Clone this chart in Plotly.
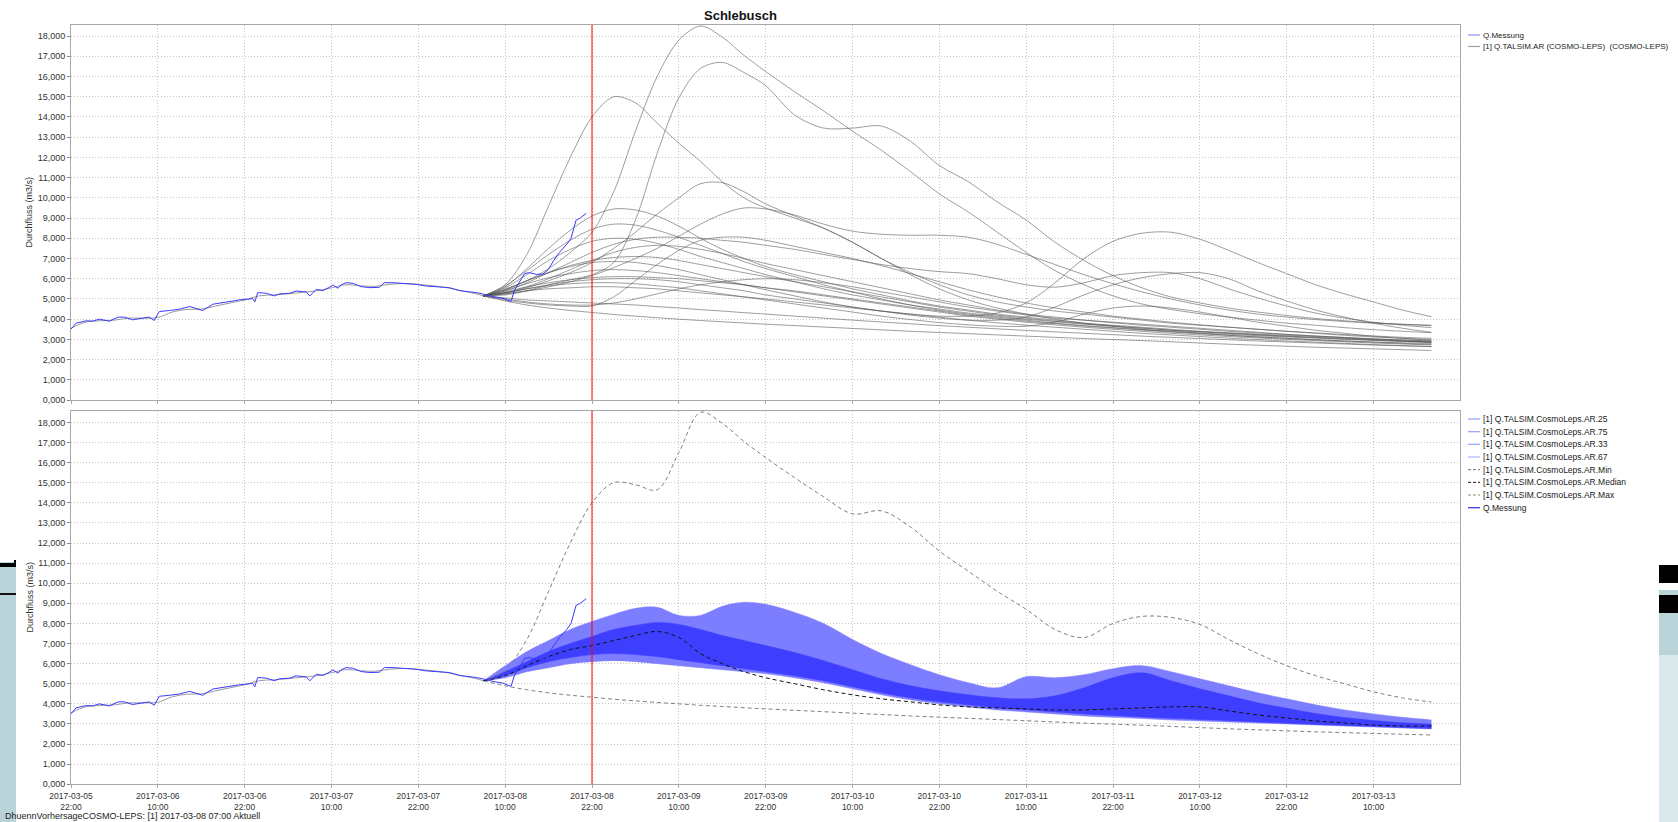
import pandas as pd
import plotly.graph_objects as go

W, H = 1678, 822
BASE = pd.Timestamp("2017-03-05 22:00")

# ---------------- data ----------------
meas_h = [0, 0.7, 2.1, 3.0, 3.9, 5.3, 6.5, 7.4, 8.5, 9.9, 10.8, 11.5, 12.2, 13.6, 15.0, 16.4, 17.3, 18.2, 19.6, 21.4,
          23.3, 25.1, 25.4, 25.8, 27.0, 28.1, 28.8, 30.2, 31.1, 32.5, 33.0, 33.9, 34.8, 35.7, 36.2, 36.9, 37.3, 38.0,
          39.0, 40.1, 41.3, 42.6, 43.3, 44.5, 46.4, 47.7, 49.1, 50.9, 52.3, 53.7, 55.1, 56.0, 56.9, 58.3, 59.7, 60.8,
          61.3, 62.0, 62.7, 63.4, 64.3, 65.2, 65.9, 66.6, 67.5, 68.5, 69.1, 69.8, 70.3, 71.2]
meas_v = [3508, 3800, 3918, 3900, 4000, 3900, 4098, 4100, 3967, 4066, 4100, 3935, 4377, 4426, 4492, 4623, 4525, 4426,
          4738, 4852, 4951, 5016, 4852, 5311, 5279, 5148, 5246, 5279, 5393, 5344, 5148, 5475, 5410, 5574, 5689, 5525,
          5689, 5803, 5770, 5607, 5557, 5574, 5803, 5803, 5770, 5721, 5639, 5574, 5557, 5410, 5360, 5311, 5246, 5115,
          5033, 4869, 5443, 5852, 6262, 6295, 6213, 6230, 6426, 6836, 7300, 7700, 8000, 8900, 8983, 9230]

hist_h = [0, 2, 4, 6, 8, 10, 12, 14, 16, 18, 20, 22, 24, 26, 28, 30, 32, 34, 36, 38, 40, 42, 44, 46, 48, 50, 52, 54, 56, 57]
hist_v = [3550, 3850, 3920, 3950, 4050, 4050, 4080, 4350, 4480, 4500, 4650, 4800, 4950, 5150, 5200, 5250, 5330, 5400,
          5550, 5700, 5650, 5620, 5720, 5760, 5720, 5650, 5550, 5400, 5250, 5150]

fc_h = [57, 60, 63, 66, 69, 72, 75, 78, 81, 84, 87, 90, 93, 96, 100, 104, 108, 112, 116, 120, 124, 128, 132, 136, 140,
        144, 148, 152, 156, 160, 164, 168, 172, 176, 180, 184, 188]

members = {
    "A": [5150, 5500, 5900, 6500, 7300, 8300, 10300, 13300, 16000, 17800, 18500, 17950, 17050, 16250, 15250, 14300,
          13300, 12350, 11300, 10200, 9300, 8300, 7300, 6400, 5700, 5150, 4750, 4480, 4270, 4100, 3950, 3800, 3700,
          3580, 3480, 3400, 3330],
    "B": [5150, 5200, 5400, 5700, 5950, 6200, 6800, 8900, 12200, 14950, 16400, 16700, 16200, 15550, 14100, 13450, 13450,
          13550, 12800, 11600, 10800, 9800, 8900, 7800, 6900, 6150, 5550, 5100, 4800, 4550, 4350, 4180, 4030, 3920, 3820,
          3740, 3680],
    "C": [5150, 5700, 7200, 9600, 12000, 14000, 15000, 14700, 13700, 12700, 11800, 10800, 10000, 9500, 9000, 8500, 7800,
          7000, 6300, 5700, 5200, 4850, 4600, 4400, 4250, 4100, 3950, 3800, 3700, 3600, 3500, 3400, 3300, 3200, 3120,
          3050, 3000],
    "D": [5150, 5300, 5550, 5900, 6300, 6800, 7500, 8300, 9200, 10000, 10700, 10750, 10300, 9700, 9100, 8500, 7800,
          7000, 6200, 5500, 4950, 4550, 4250, 4000, 3800, 3650, 3500, 3400, 3300, 3200, 3120, 3050, 2980, 2920, 2870,
          2830, 2800],
    "E": [5150, 5250, 5400, 5600, 5850, 6150, 6550, 7000, 7500, 8100, 8700, 9200, 9500, 9450, 9150, 8700, 8350, 8200,
          8150, 8150, 8050, 7700, 7200, 6700, 6200, 5750, 5350, 5000, 4700, 4450, 4250, 4100, 3980, 3880, 3800, 3750,
          3700],
    "F": [5150, 5300, 5500, 5700, 5850, 5950, 6000, 6000, 5950, 5850, 5700, 5550, 5400, 5200, 5000, 4800, 4600, 4400,
          4250, 4150, 4150, 4300, 4800, 5800, 7000, 7850, 8250, 8300, 7950, 7400, 6800, 6250, 5700, 5250, 4850, 4450,
          4120],
    "G": [5150, 5400, 5800, 6300, 6800, 7300, 7700, 7950, 8050, 8050, 8000, 7900, 7800, 7650, 7450, 7200, 6950, 6700,
          6500, 6350, 6250, 6000, 5700, 5580, 5800, 6150, 6300, 6300, 6000, 5500, 5050, 4650, 4300, 4050, 3850, 3700,
          3580],
    "H": [5150, 5450, 5900, 6300, 6600, 6800, 6850, 6800, 6650, 6450, 6200, 5950, 5700, 5450, 5150, 4850, 4600, 4400,
          4200, 4050, 3950, 3950, 4100, 4600, 5200, 5700, 6050, 6250, 6300, 6000, 5400, 4900, 4450, 4100, 3800, 3550,
          3350],
    "I": [5150, 5600, 6500, 7500, 8400, 9100, 9450, 9400, 9100, 8600, 8000, 7450, 7000, 6600, 6200, 5850, 5500, 5200,
          4900, 4650, 4450, 4250, 4100, 3950, 3800, 3700, 3600, 3500, 3400, 3330, 3260, 3200, 3140, 3080, 3020, 2970,
          2920],
    "J": [5150, 5650, 6400, 7200, 7900, 8450, 8700, 8650, 8400, 8050, 7650, 7250, 6850, 6500, 6100, 5700, 5350, 5000,
          4700, 4450, 4250, 4100, 3950, 3800, 3680, 3580, 3480, 3400, 3320, 3250, 3180, 3120, 3060, 3000, 2950, 2900,
          2850],
    "K": [5150, 5550, 6200, 6900, 7450, 7850, 8000, 7950, 7750, 7450, 7100, 6800, 6500, 6200, 5850, 5500, 5200, 4950,
          4700, 4500, 4300, 4150, 4000, 3870, 3750, 3650, 3550, 3450, 3370, 3300, 3230, 3160, 3100, 3040, 2980, 2920,
          2870],
    "L": [5150, 4950, 4800, 4700, 4650, 4650, 5100, 5900, 6700, 7400, 7900, 8050, 8050, 7900, 7600, 7300, 7000, 6650,
          6250, 5850, 5450, 5100, 4800, 4550, 4350, 4150, 4000, 3850, 3720, 3600, 3500, 3400, 3320, 3240, 3170, 3100,
          3050],
    "M": [5150, 5450, 5900, 6300, 6650, 6900, 7050, 7100, 7050, 6900, 6700, 6500, 6300, 6100, 5850, 5600, 5350, 5100,
          4850, 4600, 4400, 4200, 4050, 3900, 3780, 3660, 3560, 3460, 3380, 3300, 3220, 3150, 3080, 3020, 2960, 2900,
          2850],
    "N": [5150, 5400, 5750, 6050, 6250, 6400, 6450, 6400, 6300, 6150, 6000, 5850, 5700, 5550, 5350, 5150, 4950, 4750,
          4550, 4350, 4150, 4000, 3850, 3720, 3600, 3500, 3400, 3300, 3220, 3140, 3070, 3000, 2940, 2880, 2820, 2770,
          2720],
    "O": [5150, 5350, 5600, 5800, 5950, 6050, 6100, 6100, 6050, 6000, 5900, 5800, 5700, 5550, 5400, 5200, 5000, 4800,
          4600, 4400, 4200, 4050, 3900, 3780, 3660, 3560, 3460, 3360, 3280, 3200, 3120, 3050, 2980, 2920, 2860, 2800,
          2750],
    "P": [5150, 5000, 4850, 4750, 4700, 4700, 4800, 5000, 5250, 5500, 5700, 5850, 5950, 6000, 5950, 5800, 5600, 5350,
          5100, 4850, 4600, 4400, 4200, 4050, 3950, 3850, 3750, 3650, 3550, 3450, 3350, 3250, 3160, 3080, 3000, 2930,
          2870],
    "Q": [5150, 5250, 5400, 5500, 5550, 5600, 5600, 5550, 5500, 5400, 5300, 5200, 5100, 5000, 4850, 4700, 4550, 4400,
          4250, 4100, 3950, 3820, 3700, 3600, 3500, 3400, 3300, 3220, 3140, 3060, 2990, 2920, 2860, 2800, 2740, 2690,
          2640],
    "R": [5150, 5050, 4950, 4900, 4850, 4800, 4750, 4700, 4620, 4550, 4470, 4400, 4320, 4250, 4150, 4050, 3950, 3860,
          3770, 3680, 3600, 3520, 3440, 3370, 3300, 3230, 3160, 3100, 3040, 2980, 2920, 2870, 2820, 2770, 2720, 2680,
          2640],
    "S": [5150, 4900, 4700, 4550, 4430, 4330, 4230, 4150, 4070, 4000, 3930, 3870, 3810, 3750, 3680, 3610, 3540, 3470,
          3400, 3340, 3280, 3220, 3160, 3100, 3040, 2990, 2940, 2880, 2820, 2760, 2710, 2660, 2610, 2570, 2530, 2490,
          2450],
    "T": [5150, 5300, 5500, 5650, 5750, 5800, 5800, 5750, 5650, 5550, 5400, 5250, 5100, 4950, 4750, 4550, 4350, 4150,
          3980, 3830, 3720, 3650, 3650, 3850, 4250, 4550, 4650, 4550, 4350, 4100, 3850, 3650, 3450, 3300, 3150, 3050,
          2950],
    "U": [5150, 5300, 5600, 6000, 6450, 6900, 7300, 7550, 7650, 7600, 7450, 7250, 7000, 6750, 6450, 6150, 5850, 5550,
          5250, 4950, 4700, 4450, 4250, 4100, 3950, 3820, 3700, 3600, 3500, 3400, 3320, 3240, 3170, 3100, 3030, 2970,
          2920],
}

q25 = [5150, 5300, 5600, 5800, 6000, 6100, 6150, 6100, 6000, 5900, 5800, 5700, 5600, 5500, 5300, 5050, 4750, 4450,
       4200, 4000, 3850, 3700, 3600, 3500, 3400, 3330, 3270, 3200, 3150, 3100, 3050, 3000, 2950, 2900, 2850, 2800, 2750]
q75 = [5150, 5900, 6600, 7150, 7700, 8100, 8450, 8750, 8800, 8400, 8400, 8850, 9050, 8950, 8550, 8000, 7200, 6500,
       5950, 5450, 5050, 4800, 5350, 5300, 5450, 5750, 5900, 5600, 5250, 4900, 4550, 4250, 3950, 3700, 3500, 3330, 3200]
q33 = [5150, 5400, 5800, 6100, 6300, 6450, 6500, 6450, 6350, 6200, 6050, 5900, 5750, 5600, 5400, 5150, 4850, 4550,
       4300, 4100, 3950, 3800, 3700, 3600, 3500, 3420, 3350, 3280, 3220, 3160, 3100, 3040, 2980, 2930, 2880, 2830, 2780]
q67 = [5150, 5600, 6100, 6600, 7000, 7350, 7700, 7900, 8050, 7950, 7700, 7400, 7150, 6900, 6550, 6150, 5700, 5250,
       4900, 4650, 4450, 4300, 4250, 4400, 4800, 5300, 5550, 5150, 4750, 4400, 4050, 3780, 3520, 3320, 3170, 3060, 3000]
q_med = [5150, 5400, 5900, 6350, 6700, 6900, 7150, 7400, 7600, 7300, 6500, 6000, 5600, 5300, 5000, 4700, 4450, 4250,
         4100, 3950, 3850, 3800, 3750, 3700, 3700, 3750, 3800, 3850, 3850, 3650, 3450, 3300, 3150, 3050, 2950, 2900, 2900]
q_min = [5150, 4900, 4700, 4550, 4430, 4330, 4230, 4150, 4070, 4000, 3930, 3870, 3810, 3750, 3680, 3610, 3540, 3470,
         3400, 3340, 3280, 3220, 3160, 3100, 3040, 2990, 2940, 2880, 2820, 2760, 2710, 2660, 2610, 2570, 2530, 2490, 2450]
q_max = [5150, 5700, 7200, 9600, 12000, 14000, 15000, 14900, 14650, 16500, 18500, 17950, 17050, 16250, 15250, 14300,
         13450, 13600, 12800, 11600, 10600, 9600, 8700, 7700, 7300, 8000, 8350, 8300, 7950, 7200, 6500, 5900, 5400,
         5000, 4600, 4300, 4090]

y_tickvals = list(range(0, 19000, 1000))
y_ticktext = ["0,000", "1,000", "2,000", "3,000", "4,000", "5,000", "6,000", "7,000", "8,000", "9,000", "10,000",
              "11,000", "12,000", "13,000", "14,000", "15,000", "16,000", "17,000", "18,000"]

title_text = "Schlebusch"
y_title = "Durchfluss (m3/s)"
footer = "DhuennVorhersageCOSMO-LEPS: [1] 2017-03-08 07:00 Aktuell"
legend_top = [("Q.Messung", "#8c8cff", "solid"),
              ("[1] Q.TALSIM.AR (COSMO-LEPS)\u00a0\u00a0(COSMO-LEPS)", "#a0a0a0", "solid")]
legend_bot = [("[1] Q.TALSIM.CosmoLeps.AR.25", "#9c9cff", "solid"),
              ("[1] Q.TALSIM.CosmoLeps.AR.75", "#9c9cff", "solid"),
              ("[1] Q.TALSIM.CosmoLeps.AR.33", "#9c9cff", "solid"),
              ("[1] Q.TALSIM.CosmoLeps.AR.67", "#b4b4ff", "solid"),
              ("[1] Q.TALSIM.CosmoLeps.AR.Min", "#888888", "dash"),
              ("[1] Q.TALSIM.CosmoLeps.AR.Median", "#444444", "dash"),
              ("[1] Q.TALSIM.CosmoLeps.AR.Max", "#888888", "dash"),
              ("Q.Messung", "#2a2aff", "solid")]


def tx(hours):
    return [BASE + pd.Timedelta(hours=h) for h in hours]


# ---------------- layout geometry (pixels) ----------------
PL, PR = 71, 1460
T1, B1 = 25, 400
T2, B2 = 410.7, 784.3


def px(x):
    return x / W


def py(y):
    return 1 - y / H


fig = go.Figure()

MEAS_C = "#3a3aff"
ENS_C = "rgba(85,85,85,0.72)"

# top plot
fig.add_trace(go.Scatter(x=tx(hist_h), y=hist_v, mode="lines", line=dict(color="#9a9a9a", width=1, shape="spline"),
                         xaxis="x", yaxis="y", showlegend=False, hoverinfo="skip"))
for name, vals in members.items():
    fig.add_trace(go.Scatter(x=tx(fc_h), y=vals, mode="lines",
                             line=dict(color=ENS_C, width=0.8, shape="spline", smoothing=0.9),
                             xaxis="x", yaxis="y", showlegend=False, name=name))
fig.add_trace(go.Scatter(x=tx(meas_h), y=meas_v, mode="lines", line=dict(color=MEAS_C, width=1),
                         xaxis="x", yaxis="y", showlegend=False, name="Q.Messung"))

# bottom plot
LIGHT = "rgb(125,125,255)"
DARK = "rgb(62,62,255)"
fig.add_trace(go.Scatter(x=tx(hist_h), y=hist_v, mode="lines", line=dict(color="#9a9aaa", width=1, shape="spline"),
                         xaxis="x2", yaxis="y2", showlegend=False, hoverinfo="skip"))
fig.add_trace(go.Scatter(x=tx(fc_h), y=q25, mode="lines", line=dict(color=LIGHT, width=0.5, shape="spline"),
                         xaxis="x2", yaxis="y2", showlegend=False))
fig.add_trace(go.Scatter(x=tx(fc_h), y=q75, mode="lines", line=dict(color=LIGHT, width=0.5, shape="spline"),
                         fill="tonexty", fillcolor=LIGHT, xaxis="x2", yaxis="y2", showlegend=False))
fig.add_trace(go.Scatter(x=tx(fc_h), y=q33, mode="lines", line=dict(color=DARK, width=0.5, shape="spline"),
                         xaxis="x2", yaxis="y2", showlegend=False))
fig.add_trace(go.Scatter(x=tx(fc_h), y=q67, mode="lines", line=dict(color=DARK, width=0.5, shape="spline"),
                         fill="tonexty", fillcolor=DARK, xaxis="x2", yaxis="y2", showlegend=False))
fig.add_trace(go.Scatter(x=tx(fc_h), y=q_min, mode="lines",
                         line=dict(color="#808080", width=1, dash="4px,3px", shape="spline"),
                         xaxis="x2", yaxis="y2", showlegend=False))
fig.add_trace(go.Scatter(x=tx(fc_h), y=q_max, mode="lines",
                         line=dict(color="#808080", width=1, dash="4px,3px", shape="spline"),
                         xaxis="x2", yaxis="y2", showlegend=False))
fig.add_trace(go.Scatter(x=tx(fc_h), y=q_med, mode="lines",
                         line=dict(color="#111111", width=1, dash="4px,3px", shape="spline"),
                         xaxis="x2", yaxis="y2", showlegend=False))
fig.add_trace(go.Scatter(x=tx(meas_h), y=meas_v, mode="lines", line=dict(color=MEAS_C, width=1),
                         xaxis="x2", yaxis="y2", showlegend=False))

FONT = "Liberation Sans"
GRID = "#c6c6c6"
FRAME = "#a8a8a8"
xr = [BASE, BASE + pd.Timedelta(hours=191.95)]
common_x = dict(type="date", range=xr, dtick=12 * 3600 * 1000, tick0=BASE, showgrid=True, gridcolor=GRID,
                griddash="1px,2px", gridwidth=1, showline=True, linecolor=FRAME, mirror=True, zeroline=False,
                ticks="outside", ticklen=3, tickcolor=FRAME, automargin=False)
common_y = dict(tickvals=y_tickvals, ticktext=y_ticktext, showgrid=True, gridcolor=GRID, griddash="1px,2px",
                showline=True, linecolor=FRAME, mirror=True, zeroline=False, ticks="outside", ticklen=3,
                tickcolor="#888888", tickfont=dict(family=FONT, size=9, color="#333333"), automargin=False)

fig.update_layout(
    width=W, height=H, margin=dict(l=0, r=0, t=0, b=0, autoexpand=False), paper_bgcolor="white",
    plot_bgcolor="white",
    font=dict(family=FONT, size=9, color="#333333"),
    xaxis=dict(domain=[px(PL), px(PR)], anchor="y", showticklabels=False, **common_x),
    xaxis2=dict(domain=[px(PL), px(PR)], anchor="y2", showticklabels=True, tickformat="%Y-%m-%d<br>%H:%M",
                tickfont=dict(family=FONT, size=8.5, color="#333333"), **common_x),
    yaxis=dict(domain=[py(B1), py(T1)], anchor="x", range=[0, 18550], **common_y),
    yaxis2=dict(domain=[py(B2), py(T2)], anchor="x2", range=[0, 18580], **common_y),
    showlegend=False,
)

shapes = []
red_t = BASE + pd.Timedelta(hours=72)
for xa, ya in (("x", "y"), ("x2", "y2")):
    shapes.append(dict(type="line", xref=xa, yref=ya + " domain", x0=red_t, x1=red_t, y0=0, y1=1,
                       line=dict(color="#ff0000", width=1)))

annotations = []
annotations.append(dict(text="<b>" + title_text + "</b>", x=px(740), y=py(15), xref="paper", yref="paper",
                        showarrow=False, xanchor="center", yanchor="middle",
                        font=dict(family=FONT, size=13, color="#111111")))
for yc in ((T1 + B1) / 2, (T2 + B2) / 2):
    annotations.append(dict(text=y_title, x=px(29), y=py(yc), xref="paper", yref="paper", showarrow=False,
                            textangle=-90, xanchor="center", yanchor="middle",
                            font=dict(family=FONT, size=9, color="#333333")))
annotations.append(dict(text=footer, x=px(3), y=py(816), xref="paper", yref="paper", showarrow=False,
                        xanchor="left", yanchor="middle", font=dict(family=FONT, size=9, color="#222222")))

for items, ys, fs in ((legend_top, [35, 46.5], 8), (legend_bot, [419, 431.7, 444.3, 457, 469.7, 482.3, 495, 507.7], 8.5)):
    for (label, col, dash), yc in zip(items, ys):
        shapes.append(dict(type="line", xref="paper", yref="paper", x0=px(1468), x1=px(1480), y0=py(yc), y1=py(yc),
                           line=dict(color=col, width=1.2, dash="3px,2px" if dash == "dash" else "solid")))
        annotations.append(dict(text=label, x=px(1481), y=py(yc), xref="paper", yref="paper", showarrow=False,
                                xanchor="left", yanchor="middle", font=dict(family=FONT, size=fs, color="#222222")))

# window-edge artefacts of the original screenshot
PANEL = "#b9d3d8"
PANEL2 = "#dce9eb"
edge = [
    (0, 16, 562, 822, PANEL), (0, 16, 563, 567, "#000000"), (14, 16, 560, 567, "#000000"), (0, 16, 593, 595, "#111111"),
    (1659, 1678, 565, 583, "#000000"), (1659, 1678, 590, 595, PANEL), (1659, 1678, 595, 613, "#000000"),
    (1659, 1678, 613, 655, PANEL), (1659, 1678, 655, 822, PANEL2),
]
for x0, x1, y0, y1, c in edge:
    shapes.append(dict(type="rect", xref="paper", yref="paper", x0=px(x0), x1=px(x1), y0=py(y1), y1=py(y0),
                       line=dict(width=0), fillcolor=c, layer="above"))

fig.update_layout(shapes=shapes, annotations=annotations)
fig.write_html("out.html")
